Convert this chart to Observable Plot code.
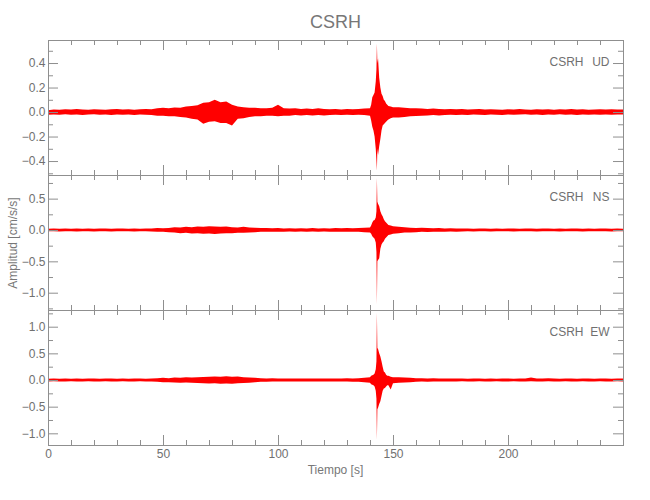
<!DOCTYPE html>
<html><head><meta charset="utf-8">
<script src="https://cdn.jsdelivr.net/npm/d3@7"></script>
<script src="https://cdn.jsdelivr.net/npm/@observablehq/plot@0.6"></script>
<style>
body{margin:0;background:#fff;}
#chart{position:relative;width:650px;height:500px;font-family:"Liberation Sans Narrow","Liberation Sans",sans-serif;color:#777;}
#chart svg{position:absolute;left:0;}
.lbl{position:absolute;white-space:nowrap;transform:translate(-50%,-50%);}
</style></head><body><div id="chart"></div>
<script>
// Time (s) of each envelope sample
const time = [
  0,2.5,5,7.5,10,12.5,15,17.5,20,22.5,
  25,27.5,30,32.5,35,37.5,40,42.5,45,47.5,
  50,52.5,55,57.5,60,62.5,65,67.5,70,72.5,
  75,77.5,80,82.5,85,87.5,90,92.5,95,97.5,
  100,102.5,105,107.5,110,112.5,115,117.5,120,122.5,
  125,127.5,130,132.5,135,137.5,140,
  140.5,141,141.5,142,142.5,142.8,143,143.2,143.5,144,
  144.5,145,145.5,146,146.5,147,147.5,148,149,150,
  152.5,155,157.5,160,162.5,165,167.5,170,172.5,175,
  177.5,180,182.5,185,187.5,190,192.5,195,197.5,200,
  202.5,205,207.5,210,212.5,215,217.5,220,222.5,225,
  227.5,230,232.5,235,237.5,240,242.5,245,247.5,250
];
// UD component: upper / lower envelope (cm/s/s)
const udHi = [
  0.015,0.02,0.018,0.022,0.02,0.024,0.02,0.018,0.022,0.02,
  0.018,0.022,0.025,0.02,0.022,0.018,0.022,0.025,0.022,0.03,
  0.035,0.03,0.038,0.035,0.045,0.05,0.055,0.075,0.08,0.1,
  0.08,0.085,0.06,0.045,0.04,0.035,0.035,0.03,0.03,0.035,
  0.06,0.03,0.028,0.03,0.025,0.028,0.025,0.03,0.025,0.022,
  0.025,0.02,0.025,0.022,0.025,0.028,0.03,
  0.06,0.12,0.14,0.16,0.25,0.35,0.56,0.4,0.44,0.28,
  0.2,0.15,0.13,0.1,0.09,0.07,0.06,0.05,0.045,0.04,
  0.04,0.035,0.03,0.03,0.028,0.025,0.028,0.025,0.022,0.025,
  0.022,0.025,0.02,0.022,0.025,0.02,0.022,0.02,0.018,0.022,
  0.02,0.024,0.02,0.018,0.022,0.02,0.022,0.018,0.022,0.02,
  0.024,0.02,0.022,0.018,0.02,0.022,0.02,0.022,0.02,0.02
];
const udLo = [
  -0.022,-0.02,-0.022,-0.018,-0.022,-0.02,-0.024,-0.02,-0.018,-0.022,
  -0.02,-0.025,-0.02,-0.022,-0.02,-0.024,-0.02,-0.022,-0.025,-0.03,
  -0.03,-0.035,-0.035,-0.04,-0.045,-0.055,-0.06,-0.095,-0.08,-0.075,
  -0.09,-0.09,-0.11,-0.055,-0.05,-0.04,-0.035,-0.035,-0.03,-0.03,
  -0.035,-0.03,-0.03,-0.025,-0.028,-0.025,-0.028,-0.025,-0.028,-0.025,
  -0.022,-0.025,-0.022,-0.025,-0.022,-0.025,-0.03,
  -0.07,-0.12,-0.15,-0.2,-0.3,-0.4,-0.48,-0.3,-0.35,-0.28,
  -0.22,-0.15,-0.11,-0.1,-0.09,-0.08,-0.07,-0.06,-0.05,-0.045,
  -0.045,-0.04,-0.035,-0.032,-0.03,-0.028,-0.025,-0.028,-0.025,-0.022,
  -0.025,-0.022,-0.025,-0.02,-0.022,-0.025,-0.02,-0.022,-0.024,-0.02,
  -0.022,-0.02,-0.018,-0.022,-0.02,-0.024,-0.02,-0.022,-0.018,-0.022,
  -0.02,-0.024,-0.02,-0.022,-0.02,-0.022,-0.02,-0.022,-0.02,-0.02
];
// NS component
const nsHi = [
  0.02,0.022,0.02,0.025,0.02,0.022,0.02,0.025,0.02,0.022,
  0.025,0.02,0.022,0.025,0.02,0.022,0.02,0.025,0.022,0.03,
  0.028,0.03,0.045,0.04,0.05,0.045,0.055,0.05,0.06,0.055,
  0.05,0.055,0.045,0.04,0.05,0.04,0.035,0.03,0.03,0.028,
  0.03,0.025,0.028,0.025,0.028,0.025,0.03,0.025,0.028,0.025,
  0.03,0.028,0.03,0.028,0.03,0.035,0.04,
  0.07,0.12,0.15,0.16,0.2,0.3,0.83,0.45,0.42,0.38,
  0.3,0.25,0.22,0.17,0.14,0.12,0.1,0.08,0.07,0.06,
  0.05,0.045,0.035,0.03,0.035,0.03,0.028,0.03,0.025,0.028,
  0.025,0.022,0.025,0.02,0.022,0.025,0.02,0.022,0.02,0.025,
  0.022,0.02,0.025,0.022,0.02,0.022,0.025,0.02,0.022,0.02,
  0.025,0.022,0.02,0.022,0.02,0.025,0.022,0.02,0.022,0.02
];
const nsLo = [
  -0.022,-0.02,-0.025,-0.02,-0.022,-0.025,-0.02,-0.022,-0.025,-0.02,
  -0.022,-0.025,-0.02,-0.022,-0.02,-0.025,-0.022,-0.02,-0.025,-0.028,
  -0.03,-0.035,-0.04,-0.05,-0.045,-0.055,-0.05,-0.06,-0.055,-0.065,
  -0.055,-0.05,-0.05,-0.045,-0.045,-0.04,-0.035,-0.03,-0.03,-0.03,
  -0.028,-0.03,-0.025,-0.028,-0.025,-0.03,-0.025,-0.028,-0.025,-0.03,
  -0.028,-0.03,-0.028,-0.03,-0.03,-0.035,-0.04,
  -0.06,-0.1,-0.12,-0.14,-0.2,-0.35,-1.19,-0.5,-0.48,-0.45,
  -0.3,-0.23,-0.2,-0.18,-0.14,-0.12,-0.1,-0.08,-0.07,-0.06,
  -0.05,-0.04,-0.04,-0.035,-0.03,-0.032,-0.03,-0.028,-0.03,-0.025,
  -0.028,-0.025,-0.022,-0.025,-0.02,-0.022,-0.025,-0.02,-0.022,-0.02,
  -0.025,-0.022,-0.02,-0.022,-0.025,-0.02,-0.022,-0.02,-0.025,-0.022,
  -0.02,-0.022,-0.025,-0.02,-0.022,-0.02,-0.022,-0.025,-0.02,-0.02
];
// EW component
const ewHi = [
  0.025,0.03,0.025,0.028,0.025,0.03,0.025,0.028,0.03,0.025,
  0.028,0.03,0.025,0.028,0.025,0.03,0.028,0.025,0.03,0.035,
  0.04,0.035,0.045,0.04,0.05,0.045,0.05,0.055,0.06,0.065,
  0.06,0.07,0.06,0.065,0.05,0.045,0.04,0.035,0.03,0.035,
  0.03,0.028,0.03,0.028,0.03,0.028,0.03,0.028,0.03,0.028,
  0.03,0.028,0.032,0.03,0.035,0.04,0.05,
  0.08,0.09,0.1,0.12,0.2,0.35,1.26,0.6,0.58,0.5,
  0.44,0.35,0.25,0.16,0.14,0.1,0.08,0.08,0.06,0.05,
  0.05,0.045,0.04,0.035,0.035,0.03,0.032,0.03,0.028,0.03,
  0.028,0.03,0.025,0.028,0.03,0.025,0.028,0.025,0.03,0.028,
  0.025,0.03,0.028,0.045,0.03,0.028,0.035,0.028,0.025,0.03,
  0.028,0.025,0.03,0.028,0.025,0.03,0.028,0.025,0.03,0.028
];
const ewLo = [
  -0.03,-0.025,-0.028,-0.03,-0.025,-0.028,-0.03,-0.025,-0.028,-0.03,
  -0.025,-0.028,-0.03,-0.025,-0.028,-0.03,-0.025,-0.03,-0.028,-0.035,
  -0.04,-0.04,-0.045,-0.05,-0.045,-0.05,-0.055,-0.06,-0.065,-0.06,
  -0.07,-0.065,-0.07,-0.06,-0.055,-0.05,-0.04,-0.035,-0.035,-0.03,
  -0.03,-0.03,-0.028,-0.03,-0.028,-0.03,-0.028,-0.03,-0.028,-0.03,
  -0.03,-0.03,-0.03,-0.032,-0.035,-0.04,-0.05,
  -0.08,-0.09,-0.1,-0.12,-0.2,-0.35,-1.12,-0.55,-0.52,-0.45,
  -0.4,-0.3,-0.2,-0.16,-0.15,-0.12,-0.1,-0.1,-0.18,-0.06,
  -0.05,-0.045,-0.04,-0.035,-0.03,-0.035,-0.03,-0.028,-0.03,-0.028,
  -0.03,-0.025,-0.028,-0.03,-0.025,-0.028,-0.03,-0.025,-0.028,-0.03,
  -0.025,-0.028,-0.03,-0.025,-0.028,-0.03,-0.025,-0.028,-0.03,-0.025,
  -0.028,-0.03,-0.025,-0.028,-0.03,-0.025,-0.028,-0.03,-0.025,-0.028
];
// Axis ticks
const xDomain = [0, 250];
const xMajor = [0, 50, 100, 150, 200, 250];
const xMinor = [10,20,30,40,60,70,80,90,110,120,130,140,160,170,180,190,210,220,230,240];
const xLabels = [0, 50, 100, 150, 200];
const components = ["UD", "NS", "EW"];
const yDomains = [[-0.514, 0.588], [-1.276, 0.877], [-1.219, 1.313]];
const yMajor = [[-0.4,-0.2,0,0.2,0.4], [-1,-0.5,0,0.5], [-1,-0.5,0,0.5,1]];
const yMinor = [[-0.5,-0.3,-0.1,0.1,0.3,0.5], [-1.25,-0.75,-0.25,0.25,0.75], [-0.75,-0.25,0.25,0.75,1.25]];
const his = [udHi, nsHi, ewHi];
const los = [udLo, nsLo, ewLo];
const station = "CSRH";

const W = 650, ML = 48, MR = 27, PH = 135, TOP = 40, PAD = 6;
const innerW = W - ML - MR;
const axisColor = "#8f8f8f";
const textColor = "#707070";
const font = '"Liberation Sans Narrow","Liberation Sans",sans-serif';
const chart = document.getElementById("chart");

components.forEach((comp, p) => {
  const data = time.map((t, i) => ({t, hi: his[p][i], lo: los[p][i]}));
  const last = p === components.length - 1;
  const mb = last ? 30 : PAD;
  const marks = [
    Plot.areaY(data, {x: "t", y1: "lo", y2: "hi", fill: "#ff0000"}),
    Plot.frame({stroke: axisColor}),
    Plot.tickY(yMajor[p], {stroke: axisColor, insetRight: innerW - 10}),
    Plot.tickY(yMajor[p], {stroke: axisColor, insetLeft: innerW - 10}),
    Plot.tickY(yMinor[p], {stroke: axisColor, insetRight: innerW - 5}),
    Plot.tickY(yMinor[p], {stroke: axisColor, insetLeft: innerW - 5}),
    Plot.tickX(xMajor, {stroke: axisColor, insetBottom: PH - 10}),
    Plot.tickX(xMajor, {stroke: axisColor, insetTop: PH - 10}),
    Plot.tickX(xMinor, {stroke: axisColor, insetBottom: PH - 5}),
    Plot.tickX(xMinor, {stroke: axisColor, insetTop: PH - 5}),
    Plot.axisY(yMajor[p], {anchor: "left", tickSize: 0, tickPadding: 3, tickFormat: d3.format(".1f"), fontSize: 12, fill: textColor, label: null}),
    Plot.text([station], {frameAnchor: "top-right", dx: -40, dy: 22, textAnchor: "end", lineAnchor: "middle", fontSize: 12, fill: textColor}),
    Plot.text([comp], {frameAnchor: "top-right", dx: -14, dy: 22, textAnchor: "end", lineAnchor: "middle", fontSize: 12, fill: textColor})
  ];
  if (last) {
    marks.push(Plot.axisX(xLabels, {anchor: "bottom", tickSize: 0, tickPadding: 4, tickFormat: d3.format("d"), fontSize: 12, fill: textColor, label: null}));
  }
  const svg = Plot.plot({
    width: W,
    height: PH + PAD + mb,
    marginLeft: ML, marginRight: MR, marginTop: PAD, marginBottom: mb,
    x: {domain: xDomain, axis: null},
    y: {domain: yDomains[p], axis: null},
    style: {background: "transparent", overflow: "visible", fontFamily: font, color: textColor},
    marks
  });
  svg.style.top = (TOP + p * PH - PAD) + "px";
  chart.appendChild(svg);
});

function addLabel(text, x, y, size, rotate) {
  const d = document.createElement("div");
  d.className = "lbl";
  d.textContent = text;
  d.style.left = x + "px";
  d.style.top = y + "px";
  d.style.fontSize = size + "px";
  if (rotate) d.style.transform = "translate(-50%,-50%) rotate(-90deg)";
  chart.appendChild(d);
}
addLabel(station, ML + innerW / 2, 22, 18, false);
addLabel("Tiempo [s]", ML + innerW / 2, 470, 12, false);
addLabel("Amplitud [cm/s/s]", 13, TOP + 1.5 * PH, 12, true);
</script></body></html>
